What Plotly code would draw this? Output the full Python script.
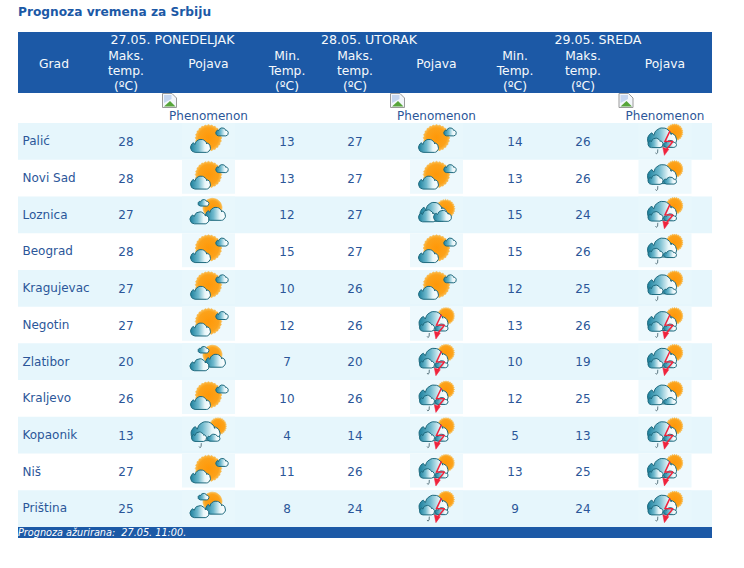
import numpy as np
import plotly.graph_objects as go

# table content --------------------------------------------------------------
title = "Prognoza vremena za Srbiju"
footer = "Prognoza ažurirana:  27.05. 11:00."
day_labels = ["27.05. PONEDELJAK", "28.05. UTORAK", "29.05. SREDA"]
cities = ["Palić", "Novi Sad", "Loznica", "Beograd", "Kragujevac", "Negotin",
          "Zlatibor", "Kraljevo", "Kopaonik", "Niš", "Priština"]

day1_max = [28, 28, 27, 28, 27, 27, 20, 26, 13, 27, 25]
day2_min = [13, 13, 12, 15, 10, 12, 7, 10, 4, 11, 8]
day2_max = [27, 27, 27, 27, 26, 26, 20, 26, 14, 26, 24]
day3_min = [14, 13, 15, 15, 12, 13, 10, 12, 5, 13, 9]
day3_max = [26, 26, 24, 26, 25, 26, 19, 25, 13, 25, 24]

# weather icons: sunny, partly, cloudy, rain, storm
day1_icon = ["sunny", "sunny", "partly", "sunny", "sunny", "sunny",
             "partly", "sunny", "rain", "sunny", "partly"]
day2_icon = ["sunny", "sunny", "cloudy", "sunny", "sunny", "storm",
             "storm", "storm", "storm", "storm", "storm"]
day3_icon = ["storm", "rain", "storm", "rain", "rain", "storm",
             "storm", "rain", "storm", "storm", "storm"]

# layout in page pixels ------------------------------------------------------
WIDTH, HEIGHT = 744, 568
LEFT, RIGHT = 18, 712
HEADER_TOP, HEADER_BOTTOM = 32, 93
ROWS_TOP, ROWS_BOTTOM = 123, 527
FOOTER_BOTTOM = 538
ROW_H = (ROWS_BOTTOM - ROWS_TOP) / len(cities)

BLUE = "#1C59A6"
TEXT = "#2B5699"
HEAD_TEXT = "#F6F9FC"
ROW_BG = "#E6F6FC"
ICON_BG = "#EEF9FD"
FONT = "DejaVu Sans"

GRAD_X = 54
POJAVA_X = [208.5, 436.5, 665]
MIN_X = [287, 515]
MAX_X = [126, 355, 583]
DAY_X = [172.5, 369, 598]
ICON_W, ICON_H = 53, 34

row_mid = [ROWS_TOP + ROW_H * (i + 0.5) for i in range(len(cities))]

fig = go.Figure()


# helpers --------------------------------------------------------------------
def rect(x0, y0, x1, y1, color):
    fig.add_shape(type="rect", x0=x0, y0=y0, x1=x1, y1=y1,
                  fillcolor=color, line_width=0, layer="below")


def add_text(xs, ys, texts, color=TEXT, size=12, position="middle center", family=FONT):
    fig.add_trace(go.Scatter(x=xs, y=ys, text=texts, mode="text", textposition=position,
                             textfont=dict(family=family, size=size, color=color),
                             hoverinfo="skip", showlegend=False))


def arc(cx, cy, rx, ry, start, end, n=14):
    ang = np.radians(np.linspace(start, end, n))
    return cx + rx * np.cos(ang), cy + ry * np.sin(ang)


def cloud_outline(cx, cy, w, h):
    # flat bottom, left lobe, dome, right lobe (y axis points down)
    parts = [
        arc(cx - w * 0.27, cy + h * 0.12, w * 0.23, h * 0.38, 90, 250),
        arc(cx + w * 0.02, cy - h * 0.02, w * 0.31, h * 0.48, 190, 345),
        arc(cx + w * 0.30, cy + h * 0.14, w * 0.20, h * 0.36, 270, 450),
    ]
    xs = np.concatenate([p[0] for p in parts])
    ys = np.concatenate([p[1] for p in parts])
    return np.append(xs, xs[0]), np.append(ys, ys[0])


def draw_cloud(cx, cy, w, h, line_w=1.0):
    xs, ys = cloud_outline(cx, cy, w, h)
    fig.add_trace(go.Scatter(
        x=xs, y=ys, mode="lines", fill="toself",
        line=dict(color="#1F6A7E", width=line_w),
        fillgradient=dict(type="horizontal",
                          colorscale=[[0, "#1B7F9C"], [0.4, "#6FB9CD"], [0.72, "#E8F6F9"], [1, "#FFFFFF"]]),
        hoverinfo="skip", showlegend=False))


def draw_sun(cx, cy, r, spikes=True):
    if spikes:
        ang = np.radians(np.arange(0, 361, 7.5))
        rad = np.where(np.arange(len(ang)) % 2 == 0, r + 1.0, r)
    else:
        ang = np.radians(np.arange(0, 361, 10))
        rad = np.full(len(ang), r)
    fig.add_trace(go.Scatter(
        x=cx + rad * np.cos(ang), y=cy + rad * np.sin(ang), mode="lines", fill="toself",
        line=dict(color="#F9B440", width=0.6),
        fillgradient=dict(type="radial", colorscale=[[0, "#FF9808"], [0.75, "#FCA21A"], [1, "#FBBE50"]]),
        hoverinfo="skip", showlegend=False))


def draw_drop(cx, cy):
    fig.add_trace(go.Scatter(x=[cx + 0.8, cx + 0.6, cx - 0.6, cx - 1.4], y=[cy - 2.5, cy + 1, cy + 2, cy + 0.8],
                             mode="lines", line=dict(color="#5E7A84", width=1),
                             hoverinfo="skip", showlegend=False))


def draw_bolt(cx, cy):
    fig.add_trace(go.Scatter(
        x=[cx + 5, cx, cx + 8, cx + 1.5], y=[cy - 10.5, cy, cy + 0.2, cy + 8],
        mode="lines", line=dict(color="#F0233C", width=1.5),
        hoverinfo="skip", showlegend=False))
    fig.add_trace(go.Scatter(
        x=[cx + 3.8, cx - 2.2, cx - 0.6, cx + 3.8], y=[cy + 8, cy + 6.2, cy + 14, cy + 8],
        mode="lines", fill="toself", line=dict(color="#F0233C", width=0.5), fillcolor="#F0233C",
        hoverinfo="skip", showlegend=False))


def draw_icon(kind, cx, cy):
    if kind == "sunny":
        draw_sun(cx, cy - 3.5, 12.3)
        draw_cloud(cx + 13.5, cy - 9.5, 12.5, 8)
        draw_cloud(cx - 8, cy + 4.5, 20, 13)
    elif kind == "partly":
        draw_sun(cx + 4, cy - 7, 9.5, spikes=False)
        draw_cloud(cx - 5, cy - 12, 11, 6.5)
        draw_cloud(cx + 7, cy - 1, 20, 13)
        draw_cloud(cx - 9, cy + 3, 19, 12)
    elif kind == "cloudy":
        draw_sun(cx + 9, cy - 6, 8.5)
        draw_cloud(cx - 3, cy - 3, 27, 19)
        draw_cloud(cx - 9, cy + 1, 18, 12)
        draw_cloud(cx + 6, cy + 1, 18, 11)
    else:
        # rain and storm share the same cloud group
        draw_sun(cx + 9.5, cy - 9, 7.6)
        draw_cloud(cx - 3, cy - 4, 29, 19)
        draw_cloud(cx - 9.5, cy + 1.5, 15, 9.5)
        draw_cloud(cx + 5, cy + 2.5, 13, 7)
        draw_drop(cx - 8, cy + 10.5)
        if kind == "storm":
            draw_bolt(cx, cy)


def draw_broken_image(x0, y0):
    # browser placeholder for the missing picture
    fig.add_shape(type="path", path=f"M{x0+.5},{y0+.5} L{x0+10},{y0+.5} L{x0+14.5},{y0+5} L{x0+14.5},{y0+14.5} L{x0+.5},{y0+14.5} Z",
                  fillcolor="#F4F7FB", line=dict(color="#9A9A9A", width=1))
    fig.add_shape(type="path", path=f"M{x0+2},{y0+2} L{x0+9.5},{y0+2} L{x0+9.5},{y0+6} L{x0+2},{y0+10} Z",
                  fillcolor="#C5D6F0", line_width=0)
    fig.add_shape(type="path", path=f"M{x0+2},{y0+13.5} L{x0+8},{y0+8} L{x0+13.5},{y0+13.5} Z",
                  fillcolor="#57A53A", line_width=0)


# backgrounds ----------------------------------------------------------------
rect(LEFT, HEADER_TOP, RIGHT, HEADER_BOTTOM, BLUE)
for i in range(len(cities)):
    top = ROWS_TOP + ROW_H * i
    if i % 2 == 0:
        rect(LEFT, top, RIGHT, top + ROW_H, ROW_BG)
    for x in POJAVA_X:
        rect(x - ICON_W / 2, top, x + ICON_W / 2, top + ICON_H, ICON_BG if i % 2 else "#E8F7FC")
rect(LEFT, ROWS_BOTTOM, RIGHT, FOOTER_BOTTOM, BLUE)

for x in POJAVA_X:
    draw_broken_image(x - 46.5, HEADER_BOTTOM)

# header text ----------------------------------------------------------------
add_text([LEFT], [13], ["<b>" + title + "</b>"], color=BLUE, size=12.2, position="middle right")
add_text(DAY_X, [40.5] * 3, day_labels, color=HEAD_TEXT, size=12.6)
add_text([GRAD_X] + POJAVA_X, [64.5] * 4, ["Grad", "Pojava", "Pojava", "Pojava"], color=HEAD_TEXT, size=12.3)
for x in MAX_X:
    add_text([x] * 3, [57, 72, 86.5], ["Maks.", "temp.", "(ºC)"], color=HEAD_TEXT, size=12.3)
for x in MIN_X:
    add_text([x] * 3, [57, 72, 86.5], ["Min.", "Temp.", "(ºC)"], color=HEAD_TEXT, size=12.3)
add_text(POJAVA_X, [117] * 3, ["Phenomenon"] * 3)

# table body -----------------------------------------------------------------
add_text([LEFT + 4.5] * len(cities), [y + 0.8 for y in row_mid], cities, position="middle right")
for x, values in zip(MAX_X + MIN_X, [day1_max, day2_max, day3_max, day2_min, day3_min]):
    add_text([x] * len(values), [y + 1.5 for y in row_mid], [str(v) for v in values])

for x, icons in zip(POJAVA_X, [day1_icon, day2_icon, day3_icon]):
    for y, kind in zip(row_mid, icons):
        draw_icon(kind, x, y)

add_text([LEFT], [ROWS_BOTTOM + 6.5], ["<i>" + footer + "</i>"], color="#FFFFFF", size=9.7, position="middle right")

# figure ---------------------------------------------------------------------
fig.update_layout(width=WIDTH, height=HEIGHT, margin=dict(l=0, r=0, t=0, b=0),
                  paper_bgcolor="white", plot_bgcolor="white", showlegend=False,
                  hovermode=False,
                  xaxis=dict(range=[0, WIDTH], visible=False, fixedrange=True),
                  yaxis=dict(range=[HEIGHT, 0], visible=False, fixedrange=True))

fig.write_html("out.html", config={"displayModeBar": False},
               post_script="document.body.style.margin='0';")
